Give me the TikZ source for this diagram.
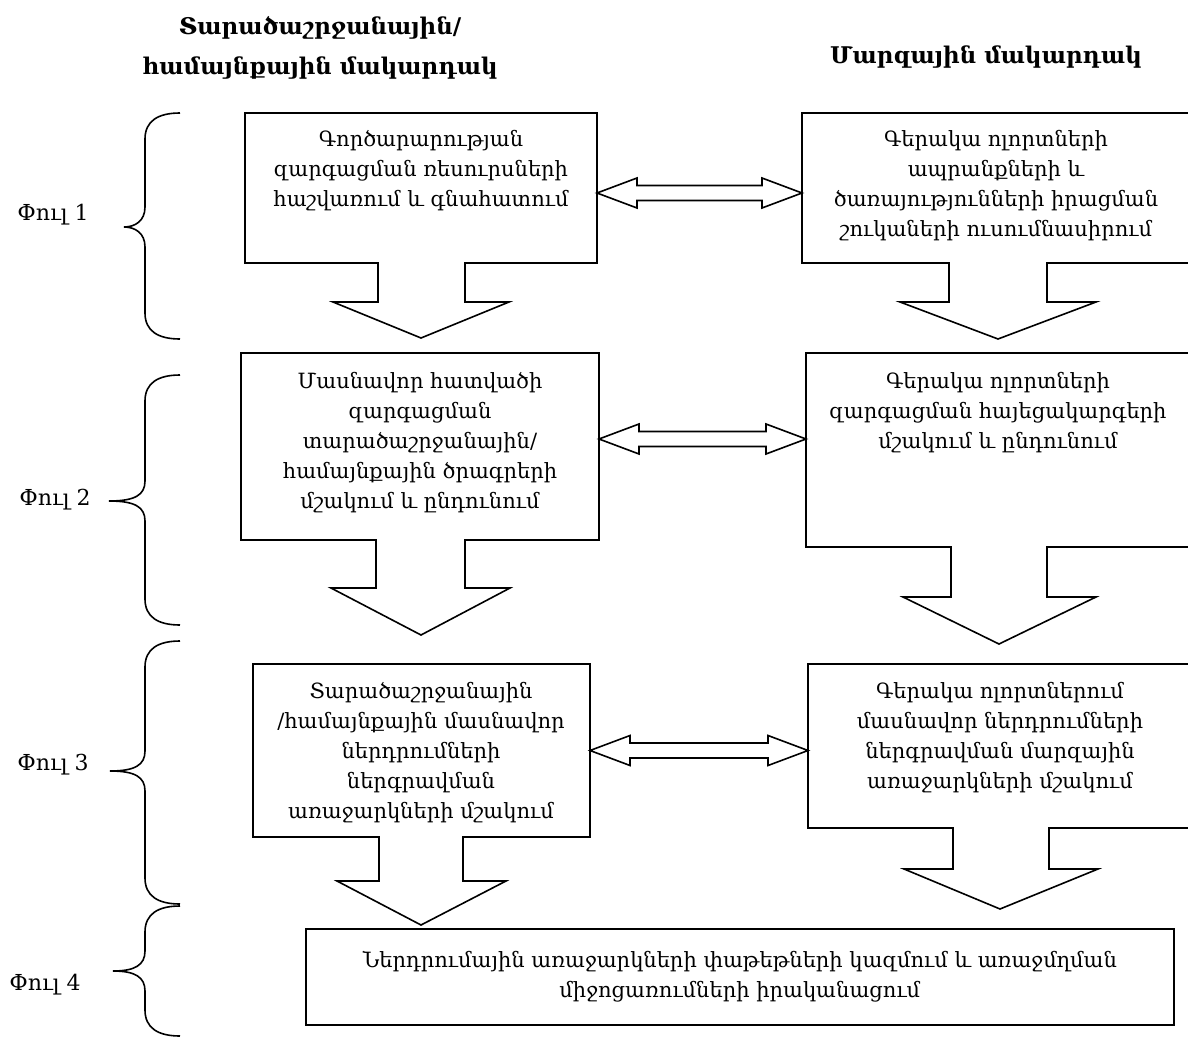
\documentclass[tikz,border=0pt]{standalone}
\usepackage{fontspec}
\setmainfont{DejaVu Serif}
\usetikzlibrary{calc}

\tikzset{
  outline/.style={line width=1.6pt, line join=miter},
  boxarea/.style={inner sep=0, outer sep=0, anchor=north west},
  boxtext/.style={align=center, anchor=north, inner sep=0, font=\fontsize{21}{30}\selectfont},
  phaselabel/.style={font=\fontsize{22}{25}\selectfont},
  leveltitle/.style={align=center, font=\bfseries\fontsize{23}{40}\selectfont}
}

% hollow two-headed arrow between two points on one level
\newcommand{\twoway}[2]{%
  \draw[outline] let \p1=(#1), \p2=(#2) in
    (\p1) -- (\x1+40pt,\y1+15pt) -- (\x1+40pt,\y1+7.5pt) -- (\x2-40pt,\y1+7.5pt)
    -- (\x2-40pt,\y1+15pt) -- (\x2,\y1) -- (\x2-40pt,\y1-15pt) -- (\x2-40pt,\y1-7.5pt)
    -- (\x1+40pt,\y1-7.5pt) -- (\x1+40pt,\y1-15pt) -- cycle;}

% curly brace of a phase: top, bottom, tip x, tip y
\newcommand{\phasebrace}[4]{%
  \draw[outline] (180,#1) .. controls (158,#1) and (145,#1+8) .. (145,#1+26)
    -- (145,#4-20) .. controls (145,#4-6) and (135,#4) .. (#3,#4)
    .. controls (135,#4) and (145,#4+6) .. (145,#4+20)
    -- (145,#2-26) .. controls (145,#2-8) and (158,#2) .. (180,#2);}

\begin{document}
\begin{tikzpicture}[x=1pt,y=-1pt]
\useasboundingbox[fill=white] (0,0) rectangle (1188,1038);

% titles
\node[leveltitle] (reg) at (320,48) {Տարածաշրջանային/\\համայնքային մակարդակ};
\node[leveltitle] (mar) at (986,57) {Մարզային մակարդակ};

% phase 1
\node[boxarea, minimum width=352, minimum height=150] (l1) at (245,113) {};
\draw[outline] (l1.north west) -- (l1.north east) -- (l1.south east) -- (465,263) -- (465,302)
  -- (509,302) -- (421,338) -- (333,302) -- (378,302) -- (378,263) -- (l1.south west) -- cycle;
\node[boxtext] (t1) at (421,130) {Գործարարության\\զարգացման ռեսուրսների\\հաշվառում և գնահատում};

\node[boxarea, minimum width=389, minimum height=150] (r1) at (802,113) {};
\draw[outline] (r1.north west) -- (r1.north east) -- (r1.south east) -- (1047,263) -- (1047,302)
  -- (1096,302) -- (998,339) -- (900,302) -- (949,302) -- (949,263) -- (r1.south west) -- cycle;
\node[boxtext] (t2) at (996,130) {Գերակա ոլորտների\\ապրանքների և\\ծառայությունների իրացման\\շուկաների ուսումնասիրում};

\twoway{[yshift=-5pt]l1.east}{r1.west}

% phase 2
\node[boxarea, minimum width=358, minimum height=187] (l2) at (241,353) {};
\draw[outline] (l2.north west) -- (l2.north east) -- (l2.south east) -- (465,540) -- (465,588)
  -- (510,588) -- (421,635) -- (331,588) -- (376,588) -- (376,540) -- (l2.south west) -- cycle;
\node[boxtext] (t3) at (420,372) {Մասնավոր հատվածի\\զարգացման\\տարածաշրջանային/\\համայնքային ծրագրերի\\մշակում և ընդունում};

\node[boxarea, minimum width=385, minimum height=194] (r2) at (806,353) {};
\draw[outline] (r2.north west) -- (r2.north east) -- (r2.south east) -- (1047,547) -- (1047,597)
  -- (1096,597) -- (999,644) -- (903,597) -- (951,597) -- (951,547) -- (r2.south west) -- cycle;
\node[boxtext] (t4) at (998,372) {Գերակա ոլորտների\\զարգացման հայեցակարգերի\\մշակում և ընդունում};

\twoway{[yshift=7.5pt]l2.east}{r2.west}

% phase 3
\node[boxarea, minimum width=337, minimum height=173] (l3) at (253,664) {};
\draw[outline] (l3.north west) -- (l3.north east) -- (l3.south east) -- (463,837) -- (463,881)
  -- (506,881) -- (421,925) -- (337,881) -- (379,881) -- (379,837) -- (l3.south west) -- cycle;
\node[boxtext] (t5) at (421,682) {Տարածաշրջանային\\/համայնքային մասնավոր\\ներդրումների\\ներգրավման\\առաջարկների մշակում};

\node[boxarea, minimum width=383, minimum height=164] (r3) at (808,664) {};
\draw[outline] (r3.north west) -- (r3.north east) -- (r3.south east) -- (1049,828) -- (1049,869)
  -- (1098,869) -- (1000,909) -- (904,869) -- (953,869) -- (953,828) -- (r3.south west) -- cycle;
\node[boxtext] (t6) at (1000,682) {Գերակա ոլորտներում\\մասնավոր ներդրումների\\ներգրավման մարզային\\առաջարկների մշակում};

\twoway{l3.east}{r3.west}

% phase 4
\node[draw, outline, minimum width=868, minimum height=96, anchor=north west, align=center,
  font=\fontsize{21}{30}\selectfont] (b4) at (305,928)
  {Ներդրումային առաջարկների փաթեթների կազմում և առաջմղման\\միջոցառումների իրականացում};

% phases
\phasebrace{113}{339}{124}{227}
\phasebrace{375}{625}{109}{501}
\phasebrace{641}{904}{110}{771}
\phasebrace{906}{1036}{113}{971}
\node[phaselabel] (f1) at (53,215) {Փուլ 1};
\node[phaselabel] (f2) at (55,500) {Փուլ 2};
\node[phaselabel] (f3) at (53,765) {Փուլ 3};
\node[phaselabel] (f4) at (45,985) {Փուլ 4};
\end{tikzpicture}
\end{document}
